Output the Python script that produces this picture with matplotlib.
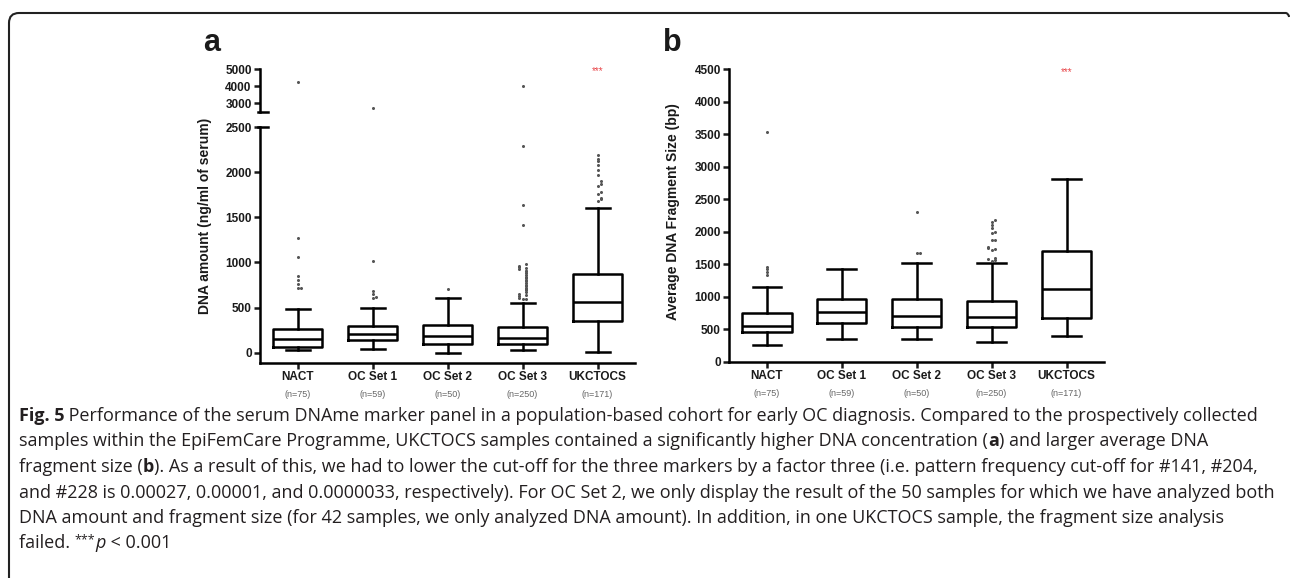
import matplotlib
matplotlib.use("Agg")
import matplotlib.pyplot as plt
from matplotlib.path import Path
from matplotlib.patches import PathPatch

plt.rcParams["font.family"] = ["Liberation Sans", "DejaVu Sans"]

groups = ["NACT", "OC Set 1", "OC Set 2", "OC Set 3", "UKCTOCS"]
group_n = ["(n=75)", "(n=59)", "(n=50)", "(n=250)", "(n=171)"]

# panel a - DNA amount (ng/ml of serum)
amount_lo = [30, 45, 0, 30, 10]
amount_q1 = [67, 141, 93, 97, 356]
amount_med = [152, 204, 189, 160, 560]
amount_q3 = [263, 300, 307, 282, 874]
amount_hi = [489, 493, 607, 549, 1600]
amount_out = [
    [715, 720, 760, 800, 850, 1060, 1265, 4250],
    [610, 620, 650, 680, 1015, 2750],
    [700],
    [590, 600, 610, 625, 640, 650, 670, 690, 700, 720, 735, 750, 770, 790, 810,
     830, 840, 860, 880, 900, 910, 925, 940, 950, 965, 980, 1410, 1640, 2290, 4000],
    [1680, 1697, 1715, 1763, 1778, 1850, 1874, 1900, 1967, 2022, 2074, 2120, 2150, 2186],
]

# panel b - average DNA fragment size (bp)
size_lo = [262, 354, 354, 308, 400]
size_q1 = [452, 590, 534, 538, 677]
size_med = [554, 760, 708, 688, 1118]
size_q3 = [754, 960, 969, 934, 1703]
size_hi = [1149, 1426, 1518, 1518, 2811]
size_out = [
    [1330, 1380, 1420, 1460, 3540],
    [],
    [1670, 1670, 2303],
    [1550, 1560, 1580, 1600, 1720, 1740, 1750, 1760, 1870, 1880, 1980, 1990, 2050,
     2100, 2150, 2180],
    [],
]

W, H = 1290, 578
fig = plt.figure(figsize=(W / 100, H / 100), dpi=100)

LW = 1.8
TXT = "#1a1a1a"


def px_axes(x0, y_top, x1, y_bot):
    return fig.add_axes([x0 / W, 1 - y_bot / H, (x1 - x0) / W, (y_bot - y_top) / H])


def style_axes(ax):
    for s in ["top", "right"]:
        ax.spines[s].set_visible(False)
    for s in ["left", "bottom"]:
        ax.spines[s].set_linewidth(LW)
    ax.tick_params(axis="both", width=LW, length=4.5, pad=1.5, labelsize=8.5, colors=TXT)
    for lab in ax.get_yticklabels():
        lab.set_fontweight("bold")
    ax.set_xlim(-0.5, 4.5)
    ax.set_facecolor("none")


def draw_boxes(ax, lo, q1, med, q3, hi, capw):
    stats = [dict(whislo=a, q1=b, med=c, q3=d, whishi=e, fliers=[])
             for a, b, c, d, e in zip(lo, q1, med, q3, hi)]
    ls = dict(color="black", linewidth=LW)
    ax.bxp(stats, positions=range(len(stats)), widths=0.66, capwidths=capw,
           showfliers=False, boxprops=ls, whiskerprops=ls, capprops=ls,
           medianprops=ls, manage_ticks=False)


def draw_fliers(ax, outs, tol):
    # spread close points sideways, like the original scatter of outliers
    for i, vals in enumerate(outs):
        placed = []
        for v in sorted(vals):
            k = sum(1 for p in placed if abs(p - v) < tol)
            off = 0.0 if k == 0 else ((k + 1) // 2) * 0.045 * (1 if k % 2 else -1)
            placed.append(v)
            ax.plot(i + off, v, "o", ms=2.2, color="#555555", mec="none")


def cat_labels(ax):
    ax.set_xticks(range(len(groups)))
    ax.set_xticklabels(groups, fontweight="bold", fontsize=8.5)
    for i, n in enumerate(group_n):
        ax.annotate(n, xy=(i, 0), xycoords=ax.get_xaxis_transform(),
                    xytext=(0, -20), textcoords="offset points",
                    ha="center", va="top", fontsize=6.5, color="#666666")


# ---------------- panel a (broken axis) ----------------
ax_lo = px_axes(260, 127, 635, 362.7)
ax_hi = px_axes(260, 69.3, 635, 112)

draw_boxes(ax_lo, amount_lo, amount_q1, amount_med, amount_q3, amount_hi, 0.32)
draw_fliers(ax_lo, amount_out, 30)
draw_fliers(ax_hi, amount_out, 30)

ax_lo.set_ylim(-111, 2500)
ax_lo.set_yticks([0, 500, 1000, 1500, 2000, 2500])
ax_hi.set_ylim(2488, 5000)
ax_hi.set_yticks([3000, 4000, 5000])
style_axes(ax_lo)
style_axes(ax_hi)
ax_hi.spines["bottom"].set_visible(False)
ax_hi.set_xticks([])
cat_labels(ax_lo)

# break marks
ax_lo.plot([-0.005, 0.02], [1, 1], transform=ax_lo.transAxes, color="black",
           lw=LW, clip_on=False)
ax_hi.plot([-0.005, 0.02], [0, 0], transform=ax_hi.transAxes, color="black",
           lw=LW, clip_on=False)

ax_hi.text(4, 4900, "***", color="#e8464a", fontsize=7, ha="center", va="center")

fig.text(205 / W, 1 - 216 / H, "DNA amount (ng/ml of serum)", rotation=90,
         ha="center", va="center", fontsize=10, fontweight="bold", color=TXT)
fig.text(212 / W, 1 - 43 / H, "a", ha="center", va="center", fontsize=22,
         fontweight="bold", color=TXT)

# ---------------- panel b ----------------
ax_b = px_axes(729.3, 69.3, 1104, 361.7)
draw_boxes(ax_b, size_lo, size_q1, size_med, size_q3, size_hi, 0.38)
draw_fliers(ax_b, size_out, 40)
ax_b.set_ylim(0, 4500)
ax_b.set_yticks(range(0, 4501, 500))
style_axes(ax_b)
cat_labels(ax_b)
ax_b.text(4, 4461, "***", color="#e8464a", fontsize=7, ha="center", va="center")

fig.text(673 / W, 1 - 212 / H, "Average DNA Fragment Size (bp)", rotation=90,
         ha="center", va="center", fontsize=10, fontweight="bold", color=TXT)
fig.text(672 / W, 1 - 43 / H, "b", ha="center", va="center", fontsize=22,
         fontweight="bold", color=TXT)

# ---------------- caption ----------------
CAP_FONT = ["Open Sans", "DejaVu Sans"]
CAP_SIZE = 13
renderer = fig.canvas.get_renderer()


def text_width(s, **kw):
    a = fig.text(0, 0, "I" + s + "I", **kw)
    b = fig.text(0, 0, "II", **kw)
    w = a.get_window_extent(renderer).width - b.get_window_extent(renderer).width
    a.remove()
    b.remove()
    return w


def rich_line(x_px, base_px, parts):
    x = x_px
    for s, weight, style in parts:
        kw = dict(fontsize=CAP_SIZE, fontweight=weight, fontstyle=style,
                  family=CAP_FONT, color="#231f20")
        fig.text(x / W, 1 - base_px / H, s, va="baseline", **kw)
        x += text_width(s, **kw)
    return x


N, B, I = "normal", "bold", "italic"
cap_lines = [
    [("Fig. 5", B, N), (" Performance of the serum DNAme marker panel in a population-based "
                        "cohort for early OC diagnosis. Compared to the prospectively collected", N, N)],
    [("samples within the EpiFemCare Programme, UKCTOCS samples contained a significantly "
      "higher DNA concentration (", N, N), ("a", B, N), (") and larger average DNA", N, N)],
    [("fragment size (", N, N), ("b", B, N), ("). As a result of this, we had to lower the "
                                              "cut-off for the three markers by a factor three (i.e. pattern "
                                              "frequency cut-off for #141, #204,", N, N)],
    [("and #228 is 0.00027, 0.00001, and 0.0000033, respectively). For OC Set 2, we only "
      "display the result of the 50 samples for which we have analyzed both", N, N)],
    [("DNA amount and fragment size (for 42 samples, we only analyzed DNA amount). In "
      "addition, in one UKCTOCS sample, the fragment size analysis", N, N)],
]
base0, step = 421, 25.5
for k, parts in enumerate(cap_lines):
    rich_line(19, base0 + k * step, parts)

# last line with raised stars
last_base = base0 + 5 * step
x = rich_line(19, last_base, [("failed. ", N, N)])
fig.text(x / W, 1 - (last_base - 5) / H, "***", fontsize=9, family=CAP_FONT,
         color="#231f20", va="baseline")
x += text_width("***", fontsize=9, family=CAP_FONT)
rich_line(x, last_base, [("p", N, I), (" < 0.001", N, N)])

# ---------------- rounded frame ----------------
r = 10
verts = [(9, H + 5), (9, 13 + r), (9, 13), (9 + r, 13), (1286, 13), (1289, 14), (1289, 17)]
codes = [Path.MOVETO, Path.LINETO, Path.CURVE3, Path.CURVE3, Path.LINETO, Path.CURVE3, Path.CURVE3]
frame = Path([(vx, H - vy) for vx, vy in verts], codes)
fig.patches.append(PathPatch(frame, transform=None, fill=False, lw=1.5, edgecolor="#222222"))

fig.savefig("out.png", dpi=100)
